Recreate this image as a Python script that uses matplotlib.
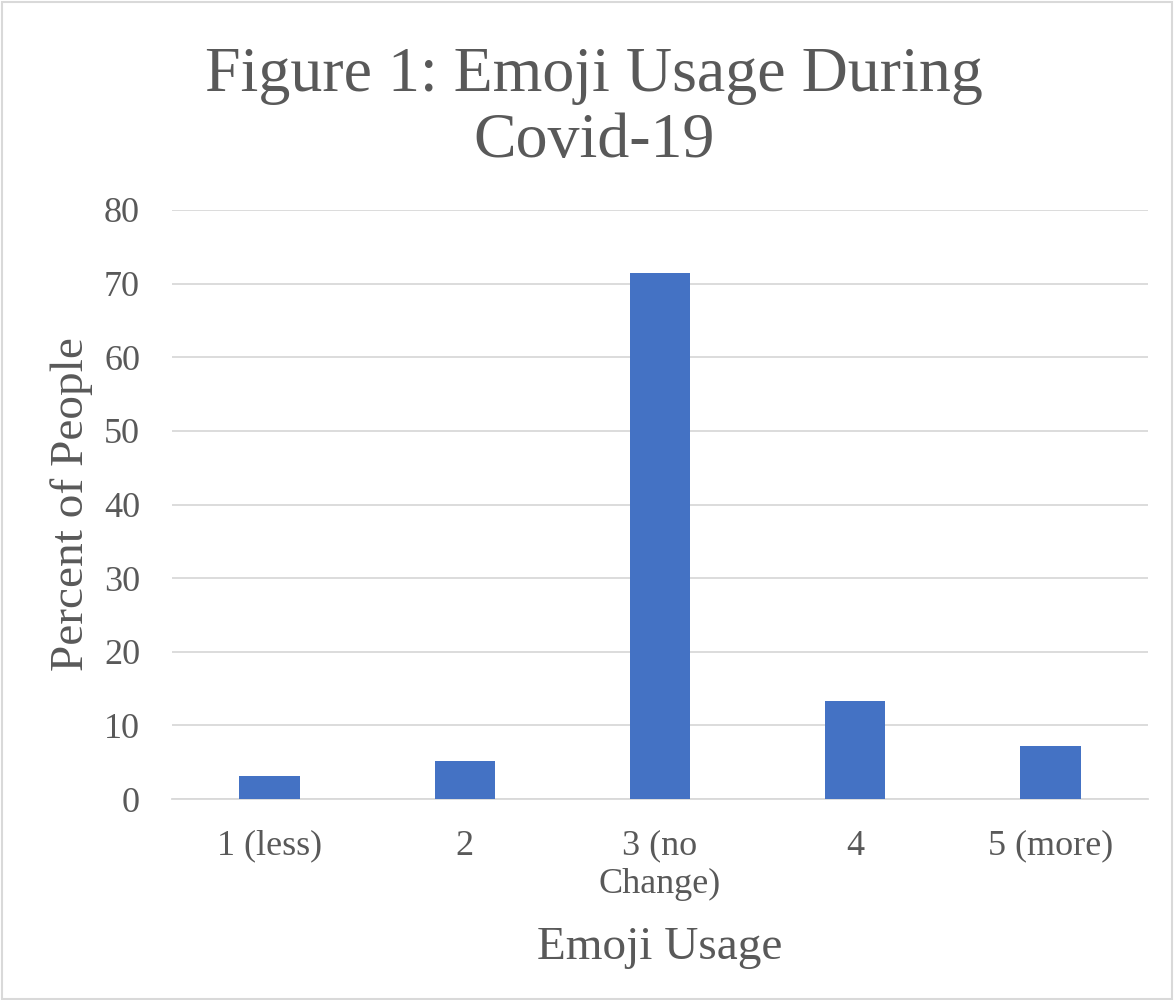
import matplotlib
matplotlib.use("Agg")
import matplotlib.pyplot as plt
from matplotlib.patches import Rectangle

categories = ["1 (less)", "2", "3 (no\nChange)", "4", "5 (more)"]
values = [3.06, 5.10, 71.43, 13.27, 7.14]
yticks = [0, 10, 20, 30, 40, 50, 60, 70, 80]

TEXT = "#595959"
BAR = "#4472C4"
GRID = "#D9D9D9"
FONT = ["Liberation Serif", "DejaVu Serif"]

plt.rcParams["font.family"] = FONT

fig = plt.figure(figsize=(11.74, 10.0), dpi=100)
fig.patches.append(Rectangle((0.0015, 0.001), 0.997, 0.997, transform=fig.transFigure,
                             fill=False, edgecolor=GRID, linewidth=1.5))

ax = fig.add_axes([172/1174, 1 - 799/1000, (1148-172)/1174, (799-210)/1000])
x = list(range(len(categories)))
ax.bar(x, values, width=0.31, color=BAR, zorder=3)
ax.set_xlim(-0.5, 4.5)
ax.set_ylim(0, 80)
ax.set_yticks(yticks)
ax.set_xticks(x)
ax.set_xticklabels(categories, fontsize=26, color=TEXT, linespacing=1.22)
ax.set_yticklabels([str(t) for t in yticks], fontsize=26, color=TEXT)
ax.tick_params(axis="x", length=0, pad=22)
ax.tick_params(axis="y", length=0, pad=23)
ax.grid(axis="y", color=GRID, linewidth=1.3, zorder=0)
for s in ["top", "right", "left"]:
    ax.spines[s].set_visible(False)
ax.spines["bottom"].set_color(GRID)
ax.spines["bottom"].set_linewidth(1.3)

ax.set_xlabel("Emoji Usage", fontsize=34, color=TEXT, labelpad=18)
ax.set_ylabel("Percent of People", fontsize=34, color=TEXT, labelpad=8)

fig.text(594/1174, 1 - 109/1000, "Figure 1: Emoji Usage During\nCovid-19", ha="center", va="center",
         fontsize=46, color=TEXT, linespacing=1.17)

fig.savefig("out.png", dpi=100, facecolor="white")
